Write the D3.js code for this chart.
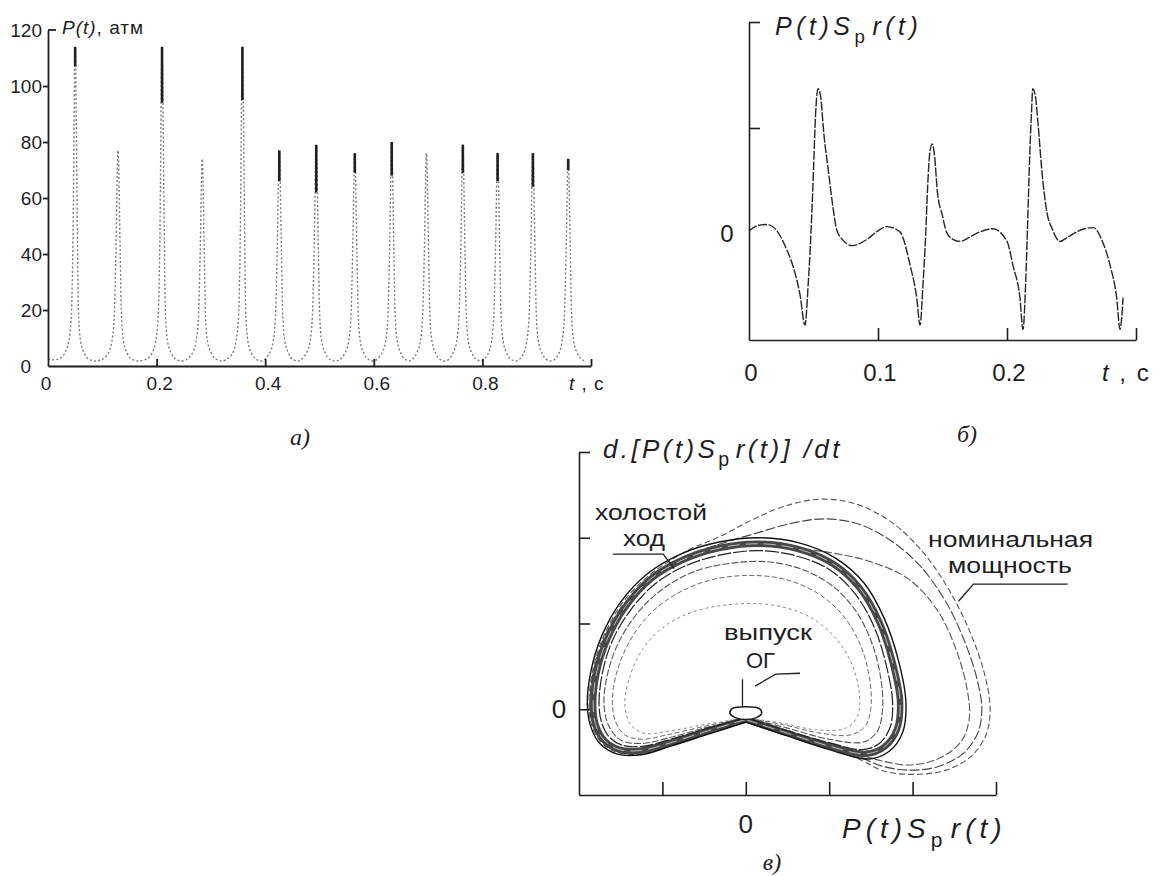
<!DOCTYPE html>
<html>
<head>
<meta charset="utf-8">
<script src="https://cdn.jsdelivr.net/npm/d3@7"></script>
<style>
  body { margin: 0; background: #fff; }
  svg { display: block; }
  text { font-family: "Liberation Sans", Arial, sans-serif; fill: #1e1e1e; }
  .panel { font-family: "Liberation Serif", serif; font-style: italic; }
</style>
</head>
<body>
<script>
// --- panel a: pressure P(t), atm (one row per engine cycle)
const pressure = [
  [0.000,2.5],[0.012,2.2],[0.024,3],[0.032,5],[0.038,8.5],[0.043,18],[0.046,45],[0.050,114],[0.054,50],[0.056,20],[0.060,9],[0.067,4.5],[0.075,2.5],[0.086,1.8],
  [0.098,2.2],[0.107,3.5],[0.113,5.5],[0.117,8],[0.122,18],[0.125,40],[0.129,77],[0.133,40],[0.135,20],[0.139,9],[0.146,4.5],[0.154,2.5],[0.165,1.8],
  [0.178,2.2],[0.188,3.5],[0.194,5.5],[0.198,8.5],[0.203,18],[0.206,45],[0.210,114],[0.214,50],[0.216,20],[0.220,9],[0.227,4.5],[0.235,2.5],[0.246,1.8],
  [0.254,2.2],[0.262,3.5],[0.268,5.5],[0.272,8],[0.277,17],[0.280,38],[0.284,74],[0.288,38],[0.290,18],[0.294,8.5],[0.301,4.5],[0.309,2.5],[0.320,1.8],
  [0.328,2.2],[0.336,3.5],[0.342,5.5],[0.346,8.5],[0.351,18],[0.354,45],[0.358,114],[0.362,50],[0.364,20],[0.368,9],[0.375,4.5],[0.383,2.5],[0.393,1.8],
  [0.398,2.2],[0.404,3.5],[0.410,5.5],[0.414,8],[0.419,18],[0.422,40],[0.426,77],[0.430,40],[0.432,20],[0.436,9],[0.443,4.5],[0.450,2.5],[0.460,1.8],
  [0.466,2.2],[0.472,3.5],[0.478,5.5],[0.482,8],[0.487,18],[0.490,40],[0.494,79],[0.498,40],[0.500,20],[0.504,9],[0.511,4.5],[0.518,2.5],[0.529,1.8],
  [0.537,2.2],[0.543,3.5],[0.549,5.5],[0.553,8],[0.558,18],[0.561,40],[0.565,76],[0.569,40],[0.571,20],[0.575,9],[0.582,4.5],[0.589,2.5],[0.599,1.8],
  [0.605,2.2],[0.611,3.5],[0.617,5.5],[0.621,8],[0.626,18],[0.629,40],[0.633,80],[0.637,40],[0.639,20],[0.643,9],[0.650,4.5],[0.657,2.5],[0.666,1.8],
  [0.670,2.2],[0.676,3.5],[0.681,5.5],[0.685,8],[0.690,18],[0.693,40],[0.697,76],[0.701,40],[0.703,20],[0.707,9],[0.714,4.5],[0.721,2.5],[0.731,1.8],
  [0.737,2.2],[0.743,3.5],[0.748,5.5],[0.752,8],[0.757,18],[0.760,40],[0.764,79],[0.768,40],[0.770,20],[0.774,9],[0.781,4.5],[0.788,2.5],[0.797,1.8],
  [0.802,2.2],[0.808,3.5],[0.813,5.5],[0.816,8],[0.821,18],[0.824,40],[0.828,76],[0.832,40],[0.834,20],[0.838,9],[0.845,4.5],[0.852,2.5],[0.861,1.8],
  [0.867,2.2],[0.873,3.5],[0.878,5.5],[0.881,8],[0.886,18],[0.889,40],[0.893,76],[0.897,40],[0.899,20],[0.903,9],[0.910,4.5],[0.917,2.5],[0.926,1.8],
  [0.932,2.2],[0.938,3.5],[0.943,5.5],[0.946,8],[0.951,18],[0.954,40],[0.958,74],[0.962,40],[0.964,20],[0.968,9],[0.975,4.5],[0.982,2.5],[0.990,1.8]
];
// darker stretches near the tops of the spikes: [t, from, to]
const boldSegs = [
  [0.050,107,114],[0.210,94,114],[0.358,95,114],[0.426,66,77],[0.494,62,79],
  [0.565,69,76],[0.633,68,80],[0.764,69,79],[0.828,66,76],[0.893,64,76],[0.958,70,74]
];
const yTicksA = [0, 20, 40, 60, 80, 100, 120];
const xTicksA = [0, 0.2, 0.4, 0.6, 0.8];

// --- panel b: P(t) S_p r(t), in y-tick units
const bT = [0.000,0.007,0.014,0.021,0.029,0.034,0.0395,0.0434,0.046,0.048,0.050,0.0515,0.0535,0.0555,0.058,0.062,0.065,0.068,0.073,0.080,
  0.0915,0.100,0.107,0.117,0.125,0.130,0.1326,0.135,0.137,0.1385,0.140,0.142,0.144,0.146,0.150,0.153,0.158,0.1636,0.171,0.179,
  0.189,0.200,0.2047,0.210,0.2124,0.2145,0.216,0.2175,0.219,0.220,0.222,0.224,0.227,0.231,0.235,0.241,0.247,0.254,0.260,0.267,
  0.274,0.280,0.285,0.2876,0.290];
const bV = [0.03,0.08,0.09,0.04,-0.14,-0.30,-0.57,-0.86,-0.45,0.00,0.60,1.10,1.37,1.30,0.95,0.55,0.26,0.04,-0.06,-0.11,
  -0.05,0.03,0.07,0.02,-0.30,-0.60,-0.86,-0.45,0.00,0.45,0.75,0.85,0.72,0.40,0.17,0.02,-0.05,-0.07,-0.03,0.02,
  0.05,-0.07,-0.30,-0.60,-0.90,-0.45,0.10,0.70,1.15,1.37,1.30,1.05,0.60,0.20,0.05,-0.07,-0.03,0.02,0.05,0.06,
  -0.07,-0.30,-0.60,-0.90,-0.60];
const xTicksB = [0, 0.1, 0.2];

// --- panel c: phase portrait, x = P S r, y = d(P S r)/dt, in tick units
const idleLoop = [[0,-0.12],[-0.45,-0.25],[-0.9,-0.39],[-1.25,-0.48],[-1.52,-0.47],[-1.7,-0.36],[-1.8,-0.18],[-1.83,0.05],[-1.79,0.42],[-1.66,0.82],[-1.44,1.2],[-1.14,1.52],[-0.76,1.74],[-0.32,1.88],[0.16,1.93],[0.62,1.87],[1.04,1.7],[1.36,1.42],[1.6,1.02],[1.76,0.55],[1.85,0.08],[1.81,-0.24],[1.66,-0.44],[1.44,-0.52],[1.0,-0.43],[0.5,-0.28],[0,-0.12]];
const idleOuter = [[0,-0.15],[-0.45,-0.29],[-0.9,-0.43],[-1.25,-0.53],[-1.55,-0.52],[-1.75,-0.4],[-1.86,-0.2],[-1.9,0.05],[-1.86,0.43],[-1.73,0.85],[-1.5,1.25],[-1.18,1.58],[-0.78,1.81],[-0.32,1.95],[0.16,2.0],[0.64,1.94],[1.08,1.76],[1.42,1.47],[1.66,1.06],[1.83,0.57],[1.92,0.08],[1.88,-0.27],[1.72,-0.49],[1.48,-0.58],[1.0,-0.47],[0.5,-0.31],[0,-0.15]];
const idleInner = [[0,-0.1],[-0.45,-0.22],[-0.9,-0.35],[-1.22,-0.43],[-1.48,-0.42],[-1.64,-0.32],[-1.73,-0.15],[-1.76,0.06],[-1.72,0.42],[-1.6,0.8],[-1.38,1.16],[-1.09,1.46],[-0.73,1.67],[-0.3,1.8],[0.16,1.85],[0.6,1.79],[1.0,1.63],[1.3,1.36],[1.53,0.98],[1.68,0.53],[1.76,0.08],[1.73,-0.21],[1.6,-0.4],[1.4,-0.47],[1.0,-0.39],[0.5,-0.25],[0,-0.1]];
const innerA = [[0,-0.1],[-0.5,-0.22],[-0.95,-0.34],[-1.25,-0.4],[-1.5,-0.36],[-1.64,-0.2],[-1.7,0.05],[-1.66,0.4],[-1.53,0.77],[-1.3,1.12],[-1.0,1.4],[-0.63,1.6],[-0.2,1.7],[0.25,1.72],[0.68,1.63],[1.05,1.43],[1.33,1.13],[1.52,0.75],[1.62,0.35],[1.64,0.0],[1.58,-0.25],[1.42,-0.38],[1.0,-0.35],[0.5,-0.22],[0,-0.1]];
const innerB = [[0,-0.1],[-0.5,-0.2],[-0.95,-0.3],[-1.25,-0.35],[-1.45,-0.3],[-1.56,-0.15],[-1.6,0.08],[-1.55,0.42],[-1.4,0.78],[-1.16,1.1],[-0.84,1.34],[-0.45,1.5],[0,1.56],[0.45,1.52],[0.85,1.36],[1.16,1.1],[1.37,0.76],[1.48,0.38],[1.5,0.02],[1.43,-0.2],[1.25,-0.3],[0.9,-0.28],[0.45,-0.18],[0,-0.1]];
const innerC = [[0,-0.1],[-0.5,-0.18],[-0.95,-0.26],[-1.22,-0.28],[-1.38,-0.18],[-1.45,0.05],[-1.4,0.35],[-1.25,0.68],[-1.0,0.95],[-0.65,1.13],[-0.2,1.22],[0.28,1.22],[0.72,1.1],[1.05,0.86],[1.26,0.55],[1.36,0.2],[1.34,-0.08],[1.2,-0.22],[0.85,-0.24],[0.42,-0.16],[0,-0.1]];
const nomA = [[0,-0.14],[-0.45,-0.28],[-0.9,-0.42],[-1.25,-0.52],[-1.55,-0.5],[-1.74,-0.38],[-1.85,-0.18],[-1.88,0.05],[-1.84,0.43],[-1.71,0.84],[-1.48,1.24],[-1.16,1.56],[-0.72,1.84],[-0.3,2.02],[0.1,2.22],[0.5,2.38],[0.9,2.45],[1.3,2.4],[1.72,2.2],[2.1,1.86],[2.42,1.42],[2.68,0.92],[2.86,0.42],[2.93,0.0],[2.88,-0.3],[2.7,-0.55],[2.4,-0.71],[2.0,-0.76],[1.65,-0.72],[1.4,-0.6],[1.0,-0.45],[0.5,-0.3],[0,-0.14]];
const nomB = [[0,-0.13],[-0.45,-0.27],[-0.9,-0.41],[-1.25,-0.5],[-1.54,-0.49],[-1.73,-0.37],[-1.84,-0.17],[-1.87,0.05],[-1.83,0.43],[-1.7,0.83],[-1.47,1.22],[-1.15,1.54],[-0.74,1.78],[-0.3,1.93],[0.15,2.06],[0.55,2.17],[0.95,2.22],[1.35,2.16],[1.75,1.96],[2.1,1.66],[2.4,1.25],[2.62,0.8],[2.77,0.36],[2.83,0.0],[2.78,-0.28],[2.6,-0.52],[2.3,-0.67],[1.95,-0.71],[1.62,-0.66],[1.4,-0.57],[1.0,-0.44],[0.5,-0.29],[0,-0.13]];
const nomC = [[0,-0.13],[-0.45,-0.26],[-0.9,-0.4],[-1.25,-0.49],[-1.53,-0.48],[-1.72,-0.36],[-1.83,-0.17],[-1.86,0.05],[-1.82,0.43],[-1.69,0.83],[-1.46,1.21],[-1.14,1.52],[-0.74,1.75],[-0.3,1.88],[0.2,1.9],[0.65,1.87],[1.05,1.82],[1.5,1.72],[1.95,1.52],[2.3,1.15],[2.52,0.7],[2.65,0.25],[2.68,-0.1],[2.58,-0.38],[2.3,-0.58],[1.95,-0.65],[1.62,-0.6],[1.4,-0.54],[1.0,-0.43],[0.5,-0.28],[0,-0.13]];
const exhaustLoop = [[0,-0.12],[-0.12,-0.1],[-0.19,-0.05],[-0.16,0.01],[0,0.03],[0.16,0.01],[0.19,-0.05],[0.12,-0.1]];
const xTicksC = [-1, 0, 1, 2, 3];
const yTicksC = [0, 1, 2, 3];

const W = 1155, H = 876;
const ink = '#1e1e1e';

const svg = d3.select('body').append('svg')
  .attr('width', W).attr('height', H)
  .attr('viewBox', `0 0 ${W} ${H}`);
svg.append('rect').attr('width', W).attr('height', H).attr('fill', '#fff');

const styleAxis = (g, w) => {
  g.select('.domain').attr('stroke', ink).attr('stroke-width', w);
  g.selectAll('.tick line').attr('stroke', ink).attr('stroke-width', w);
};

// writes P(t)S_p r(t) style labels: parts are [text, italic, sub]
const mathText = (g, x, y, size, parts, spacing = 0) => {
  const t = g.append('text').attr('x', x).attr('y', y)
    .attr('font-size', size).attr('letter-spacing', spacing);
  let down = false;
  parts.forEach(([s, it, sub]) => {
    const ts = t.append('tspan').text(s).attr('font-style', it ? 'italic' : 'normal');
    if (sub && !down) { ts.attr('dy', size * 0.32).attr('font-size', size * 0.75); down = true; }
    else if (!sub && down) { ts.attr('dy', -size * 0.32).attr('dx', size * 0.12); down = false; }
  });
  return t;
};
const psr = [['P(t)S', true], ['p', false, true], ['r(t)', true]];

// ---------------- panel a
(() => {
  const x = d3.scaleLinear().domain([0, 1]).range([48, 591]);
  const y = d3.scaleLinear().domain([0, 120]).range([366, 30]);
  const g = svg.append('g');

  g.append('path')
    .datum(pressure)
    .attr('fill', 'none')
    .attr('stroke', '#7a7a7a')
    .attr('stroke-width', 1.4)
    .attr('stroke-dasharray', '2 2.2')
    .attr('d', d3.line().x(d => x(d[0])).y(d => y(d[1])).curve(d3.curveMonotoneX));

  g.selectAll('line.bold')
    .data(boldSegs)
    .join('line')
    .attr('class', 'bold')
    .attr('x1', d => x(d[0])).attr('x2', d => x(d[0]))
    .attr('y1', d => y(d[1])).attr('y2', d => y(d[2]))
    .attr('stroke', '#202020').attr('stroke-width', 2.6);

  g.append('g').attr('transform', `translate(${x(0)},0)`)
    .call(d3.axisLeft(y).tickValues([20, 40, 60, 80, 100]).tickSize(5).tickSizeOuter(0).tickFormat(''))
    .call(a => styleAxis(a, 1.8));
  g.append('line')
    .attr('x1', x(0)).attr('x2', x(0) + 8).attr('y1', y(120)).attr('y2', y(120))
    .attr('stroke', ink).attr('stroke-width', 1.8);
  g.append('g').attr('transform', `translate(0,${y(0)})`)
    .call(d3.axisTop(x).tickValues([0.2, 0.4, 0.6, 0.8, 1]).tickSize(7).tickSizeOuter(0).tickFormat(''))
    .call(a => styleAxis(a, 1.8));

  g.selectAll('text.yl')
    .data(yTicksA)
    .join('text')
    .attr('class', 'yl')
    .attr('x', d => d === 0 ? 31 : 42)
    .attr('y', d => y(d) + 7)
    .attr('text-anchor', 'end')
    .attr('font-size', 19)
    .text(d => d);

  g.selectAll('text.xl')
    .data(xTicksA)
    .join('text')
    .attr('class', 'xl')
    .attr('x', d => x(d) + (d === 0 ? -2 : 3))
    .attr('y', 390)
    .attr('text-anchor', 'middle')
    .attr('font-size', 19)
    .text(d => d);

  mathText(g, 569, 390, 19, [['t', true], [' , c', false]], 1);
  mathText(g, 62, 34, 19, [['P(t)', true], [', атм', false]], 1);
  g.append('text').attr('class', 'panel').attr('x', 300).attr('y', 445)
    .attr('text-anchor', 'middle').attr('font-size', 24).text('а)');
})();

// ---------------- panel b
(() => {
  const x = d3.scaleLinear().domain([0, 0.3]).range([749, 1136]);
  const y = d3.scaleLinear().domain([-1, 2]).range([340, 22]);
  const g = svg.append('g');

  g.append('path')
    .datum(d3.zip(bT, bV))
    .attr('fill', 'none')
    .attr('stroke', '#262626')
    .attr('stroke-width', 1.4)
    .attr('stroke-dasharray', '9 1.6')
    .attr('d', d3.line().x(d => x(d[0])).y(d => y(d[1])).curve(d3.curveMonotoneX));

  g.append('g').attr('transform', `translate(${x(0)},0)`)
    .call(d3.axisRight(y).tickValues([1, 2]).tickSize(11).tickSizeOuter(0).tickFormat(''))
    .call(a => styleAxis(a, 1.6));
  g.append('g').attr('transform', `translate(0,${y(-1)})`)
    .call(d3.axisTop(x).tickValues([0.1, 0.2, 0.3]).tickSize(12).tickSizeOuter(0).tickFormat(''))
    .call(a => styleAxis(a, 1.6));

  g.append('text').attr('x', 727).attr('y', y(0) + 8)
    .attr('text-anchor', 'middle').attr('font-size', 24).text('0');
  g.selectAll('text.xl')
    .data(xTicksB)
    .join('text')
    .attr('class', 'xl')
    .attr('x', d => x(d) + 2)
    .attr('y', 381)
    .attr('text-anchor', 'middle')
    .attr('font-size', 24)
    .text(d => d);
  mathText(g, 1102, 381, 24, [['t', true], [' , c', false]], 2);
  mathText(g, 775, 35, 25, psr, 4.5);
  g.append('text').attr('class', 'panel').attr('x', 967).attr('y', 442)
    .attr('text-anchor', 'middle').attr('font-size', 24).text('б)');
})();

// ---------------- panel c
(() => {
  const x = d3.scaleLinear().domain([-2, 3]).range([579, 996]);
  const y = d3.scaleLinear().domain([-1, 3]).range([795, 452]);
  const g = svg.append('g');
  const open = d3.line().x(d => x(d[0])).y(d => y(d[1])).curve(d3.curveCatmullRom.alpha(0.5));

  const loops = [
    { d: innerC, stroke: '#8a8a8a', w: 1, dash: '3 3' },
    { d: innerB, stroke: '#6a6a6a', w: 1, dash: '5 2.5' },
    { d: innerA, stroke: '#555', w: 1.1, dash: '7 2' },
    { d: nomC, stroke: '#555', w: 1.1, dash: '8 2.5' },
    { d: nomB, stroke: '#444', w: 1.1, dash: '10 2.5' },
    { d: nomA, stroke: '#555', w: 1.1, dash: '6 3' },
    { d: idleLoop, stroke: '#484848', w: 6.5, dash: null },
    { d: idleLoop, stroke: '#bdbdbd', w: 1, dash: '12 6' },
    { d: idleOuter, stroke: '#111', w: 1.4, dash: null },
    { d: idleInner, stroke: '#222', w: 1.2, dash: '14 2' }
  ];
  g.selectAll('path.loop')
    .data(loops)
    .join('path')
    .attr('class', 'loop')
    .attr('fill', 'none')
    .attr('stroke', d => d.stroke)
    .attr('stroke-width', d => d.w)
    .attr('stroke-dasharray', d => d.dash)
    .attr('stroke-linejoin', 'round')
    .attr('d', d => open(d.d));

  g.append('path')
    .datum(exhaustLoop)
    .attr('fill', '#fff')
    .attr('stroke', ink)
    .attr('stroke-width', 1.5)
    .attr('d', d3.line().x(d => x(d[0])).y(d => y(d[1])).curve(d3.curveCatmullRomClosed));

  // leader lines of the annotations
  const leaders = [
    [[-1.59, 1.81], [-0.99, 1.81], [-0.86, 1.64]],
    [[3.86, 1.46], [2.73, 1.46], [2.55, 1.26]],
    [[-0.04, 0.35], [-0.04, 0.03]],
    [[0.11, 0.27], [0.36, 0.41], [0.65, 0.42]]
  ];
  g.selectAll('path.leader')
    .data(leaders)
    .join('path')
    .attr('class', 'leader')
    .attr('fill', 'none').attr('stroke', ink).attr('stroke-width', 1.3)
    .attr('d', d3.line().x(d => x(d[0])).y(d => y(d[1])));

  g.append('g').attr('transform', `translate(${x(-2)},0)`)
    .call(d3.axisRight(y).tickValues(yTicksC).tickSize(11).tickSizeOuter(0).tickFormat(''))
    .call(a => styleAxis(a, 1.6));
  g.append('g').attr('transform', `translate(0,${y(-1)})`)
    .call(d3.axisTop(x).tickValues(xTicksC).tickSize(13).tickSizeOuter(0).tickFormat(''))
    .call(a => styleAxis(a, 1.6));

  g.append('text').attr('x', 559).attr('y', y(0) + 9)
    .attr('text-anchor', 'middle').attr('font-size', 26).text('0');
  g.append('text').attr('x', x(0)).attr('y', 833)
    .attr('text-anchor', 'middle').attr('font-size', 26).text('0');

  mathText(g, 842, 838, 28, psr, 5);
  mathText(g, 603, 458, 26, [['d.[P(t)S', true], ['p', false, true], ['r(t)] /dt', true]], 3.4);

  const notes = [
    ['холостой', 595, 520, 112], ['ход', 623, 546, 42],
    ['номинальная', 928, 547, 165], ['мощность', 948, 573, 124],
    ['выпуск', 724, 640, 88], ['ОГ', 746, 668, 29]
  ];
  g.selectAll('text.note')
    .data(notes)
    .join('text')
    .attr('class', 'note')
    .attr('x', d => d[1]).attr('y', d => d[2])
    .attr('font-size', 22)
    .attr('textLength', d => d[3])
    .attr('lengthAdjust', 'spacingAndGlyphs')
    .text(d => d[0]);

  g.append('text').attr('class', 'panel').attr('x', 772).attr('y', 870)
    .attr('text-anchor', 'middle').attr('font-size', 24).text('в)');
})();
</script>
</body>
</html>
